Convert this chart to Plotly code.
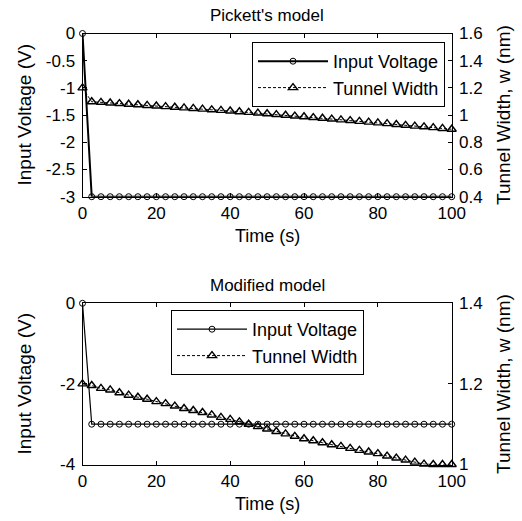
import plotly.graph_objects as go

# ---- data ----
time_s = [0, 2.5, 5, 7.5, 10, 12.5, 15, 17.5, 20, 22.5, 25, 27.5, 30, 32.5, 35, 37.5,
          40, 42.5, 45, 47.5, 50, 52.5, 55, 57.5, 60, 62.5, 65, 67.5, 70, 72.5, 75,
          77.5, 80, 82.5, 85, 87.5, 90, 92.5, 95, 97.5, 100]

voltage_pickett = [0] + [-3] * 40
voltage_modified = [0] + [-3] * 40

width_pickett = [1.200, 1.098, 1.094, 1.089, 1.085, 1.080, 1.076, 1.071, 1.067, 1.062,
                 1.058, 1.053, 1.049, 1.044, 1.039, 1.035, 1.030, 1.025, 1.020, 1.015,
                 1.010, 1.004, 0.999, 0.993, 0.988, 0.982, 0.977, 0.971, 0.965, 0.960,
                 0.954, 0.948, 0.943, 0.937, 0.931, 0.925, 0.919, 0.914, 0.908, 0.902,
                 0.896]

width_modified = [1.200, 1.196, 1.189, 1.185, 1.178, 1.172, 1.167, 1.162, 1.156, 1.151,
                  1.145, 1.139, 1.134, 1.129, 1.123, 1.117, 1.112, 1.106, 1.100, 1.094,
                  1.088, 1.082, 1.076, 1.070, 1.064, 1.059, 1.054, 1.049, 1.045, 1.040,
                  1.035, 1.031, 1.027, 1.021, 1.016, 1.011, 1.006, 1.001, 1.000, 1.000,
                  1.000]

x_ticks = [0, 20, 40, 60, 80, 100]
x_ticktext = ["0", "20", "40", "60", "80", "100"]

v_ticks_top = [-3, -2.5, -2, -1.5, -1, -0.5, 0]
v_ticktext_top = ["-3", "-2.5", "-2", "-1.5", "-1", "-0.5", "0"]
w_ticks_top = [0.4, 0.6, 0.8, 1.0, 1.2, 1.4, 1.6]
w_ticktext_top = ["0.4", "0.6", "0.8", "1", "1.2", "1.4", "1.6"]

v_ticks_bot = [-4, -2, 0]
v_ticktext_bot = ["-4", "-2", "0"]
w_ticks_bot = [1.0, 1.2, 1.4]
w_ticktext_bot = ["1", "1.2", "1.4"]

FONT = "Liberation Sans, Arial, Helvetica, sans-serif"
W, H = 522, 521

fig = go.Figure()

# top panel
fig.add_trace(go.Scatter(
    x=time_s, y=voltage_pickett, name="Input Voltage", mode="lines+markers",
    line=dict(color="black", width=2),
    marker=dict(symbol="circle-open", size=6, color="black", line=dict(width=1)),
    xaxis="x", yaxis="y", legend="legend", cliponaxis=False))
fig.add_trace(go.Scatter(
    x=time_s, y=width_pickett, name="Tunnel Width", mode="lines+markers",
    line=dict(color="black", width=1, dash="3px,2px"),
    marker=dict(symbol="triangle-up-open", size=8, color="black", line=dict(width=1.4)),
    xaxis="x", yaxis="y2", legend="legend", cliponaxis=False))

# bottom panel
fig.add_trace(go.Scatter(
    x=time_s, y=voltage_modified, name="Input Voltage", mode="lines+markers",
    line=dict(color="black", width=1.2),
    marker=dict(symbol="circle-open", size=6, color="black", line=dict(width=1)),
    xaxis="x2", yaxis="y3", legend="legend2", cliponaxis=False))
fig.add_trace(go.Scatter(
    x=time_s, y=width_modified, name="Tunnel Width", mode="lines+markers",
    line=dict(color="black", width=1, dash="3px,2px"),
    marker=dict(symbol="triangle-up-open", size=8, color="black", line=dict(width=1.4)),
    xaxis="x2", yaxis="y4", legend="legend2", cliponaxis=False))

xdom = [82.5 / W, 451.7 / W]
top_dom = [1 - 196.7 / H, 1 - 33.5 / H]
bot_dom = [1 - 464.5 / H, 1 - 303.3 / H]

tickfont = dict(family=FONT, size=17, color="black")
common_x = dict(range=[0, 100], tickmode="array", tickvals=x_ticks, ticktext=x_ticktext,
                ticks="inside", ticklen=4, tickcolor="black", showline=True,
                linecolor="black", linewidth=1, mirror="ticks", showgrid=False,
                zeroline=False, tickfont=tickfont, domain=xdom, automargin=False,
                ticklabelstandoff=1)
common_y = dict(ticks="inside", ticklen=4, tickcolor="black", showline=True,
                linecolor="black", linewidth=1, showgrid=False, zeroline=False,
                tickfont=tickfont, tickmode="array", ticklabelstandoff=3,
                automargin=False)

legend_style = dict(xanchor="right", yanchor="top", bgcolor="white",
                    bordercolor="black", borderwidth=1, itemwidth=70,
                    font=dict(family=FONT, size=18, color="black"))

fig.update_layout(
    template="none",
    width=W, height=H,
    margin=dict(l=0, r=0, t=0, b=0, pad=0),
    paper_bgcolor="white", plot_bgcolor="white",
    font=dict(family=FONT, color="black"),
    xaxis=dict(common_x, anchor="y"),
    xaxis2=dict(common_x, anchor="y3"),
    yaxis=dict(common_y, domain=top_dom, range=[-3, 0], tickvals=v_ticks_top,
               ticktext=v_ticktext_top, anchor="x"),
    yaxis2=dict(common_y, range=[0.4, 1.6], tickvals=w_ticks_top,
                ticktext=w_ticktext_top, overlaying="y", side="right", anchor="x"),
    yaxis3=dict(common_y, domain=bot_dom, range=[-4, 0], tickvals=v_ticks_bot,
                ticktext=v_ticktext_bot, anchor="x2"),
    yaxis4=dict(common_y, range=[1.0, 1.4], tickvals=w_ticks_bot,
                ticktext=w_ticktext_bot, overlaying="y3", side="right", anchor="x2"),
    legend=dict(legend_style, x=445 / W, y=1 - 42 / H),
    legend2=dict(legend_style, x=364 / W, y=1 - 310 / H),
    showlegend=True,
)

def ann(text, x, y, size, angle=0):
    fig.add_annotation(text=text, x=x / W, y=1 - y / H, xref="paper", yref="paper",
                       showarrow=False, xanchor="center", yanchor="middle",
                       textangle=angle, font=dict(family=FONT, size=size, color="black"))

ann("Pickett's model", 267, 15, 17)
ann("Time (s)", 267, 236, 18)
ann("Input Voltage (V)", 23.5, 115, 19, -90)
ann("Tunnel Width, w (nm)", 503, 115, 19, -90)

ann("Modified model", 267, 285, 17)
ann("Time (s)", 267, 504, 18)
ann("Input Voltage (V)", 23.5, 384, 19, -90)
ann("Tunnel Width, w (nm)", 503, 384, 19, -90)

fig.write_html(
    "out.html",
    config={"displayModeBar": False},
    post_script="document.body.style.margin='0';document.body.style.overflow='hidden';",
)
